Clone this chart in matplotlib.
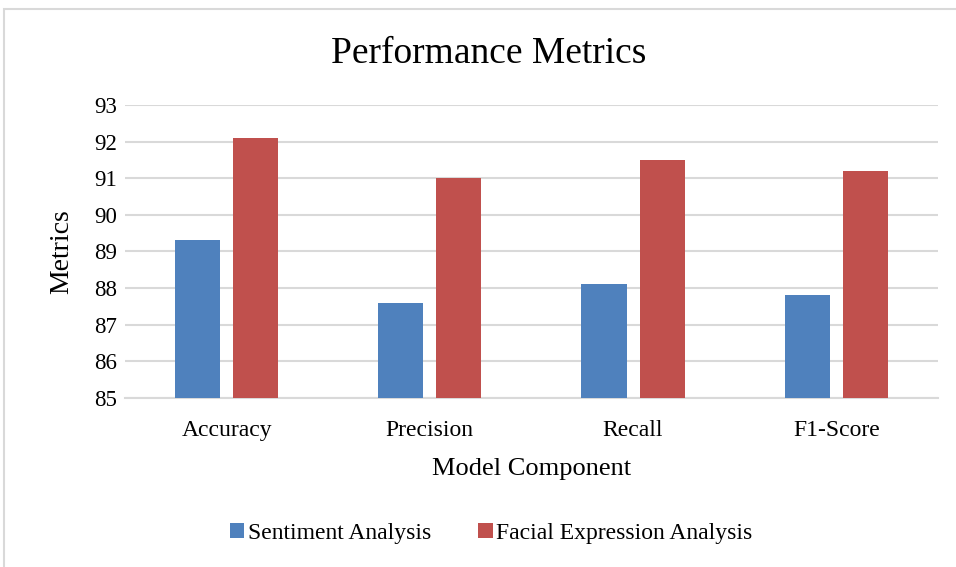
import numpy as np
import matplotlib
matplotlib.use('Agg')
import matplotlib.pyplot as plt
from matplotlib.patches import Rectangle

plt.rcParams['font.family'] = ['Liberation Serif', 'DejaVu Serif']

categories = ['Accuracy', 'Precision', 'Recall', 'F1-Score']
sentiment = [89.3, 87.6, 88.1, 87.8]
facial = [92.1, 91.0, 91.5, 91.2]
series_names = ['Sentiment Analysis', 'Facial Expression Analysis']
colors = ['#4f81bd', '#c0504d']

fig = plt.figure(figsize=(9.56, 5.67), dpi=100)
ax = fig.add_axes([0.1308, 0.298, 0.8502, 0.517])

# outer chart border (Excel style)
fig.patches.append(Rectangle((4 / 956, -0.05), 1.0, 1 - 9 / 567 + 0.05,
                             transform=fig.transFigure, fill=False,
                             edgecolor='#d9d9d9', linewidth=1.5))

x = np.arange(len(categories))
w = 0.222
off = 0.143
b1 = ax.bar(x - off, np.array(sentiment) - 85, w, bottom=85, color=colors[0],
            label=series_names[0], zorder=3)
b2 = ax.bar(x + off, np.array(facial) - 85, w, bottom=85, color=colors[1],
            label=series_names[1], zorder=3)

ax.set_xlim(-0.5, len(categories) - 0.5)
ax.set_ylim(85, 93)
ax.set_yticks(range(85, 94))
ax.set_xticks(x)
ax.set_xticklabels(categories, fontsize=17)
ax.tick_params(axis='y', labelsize=16.5, length=0, pad=6)
ax.tick_params(axis='x', length=0, pad=16)
ax.yaxis.grid(True, color='#d9d9d9', linewidth=1.5, zorder=0)
ax.set_axisbelow(True)
for s in ['top', 'right', 'left']:
    ax.spines[s].set_visible(False)
ax.spines['bottom'].set_color('#d9d9d9')
ax.spines['bottom'].set_linewidth(1.5)

ax.set_ylabel('Metrics', fontsize=20, labelpad=14)
ax.set_xlabel('Model Component', fontsize=19, labelpad=12)
fig.text(0.511, 1 - 54 / 567, 'Performance Metrics', fontsize=27,
         ha='center', va='center')

fig.legend(handles=[b1, b2], loc='center', bbox_to_anchor=(0.514, 1 - 533 / 567),
           ncol=2, frameon=False, fontsize=17, handlelength=0.6,
           handleheight=0.6, handletextpad=0.15, columnspacing=2.0)

fig.savefig('out.png', dpi=100)
